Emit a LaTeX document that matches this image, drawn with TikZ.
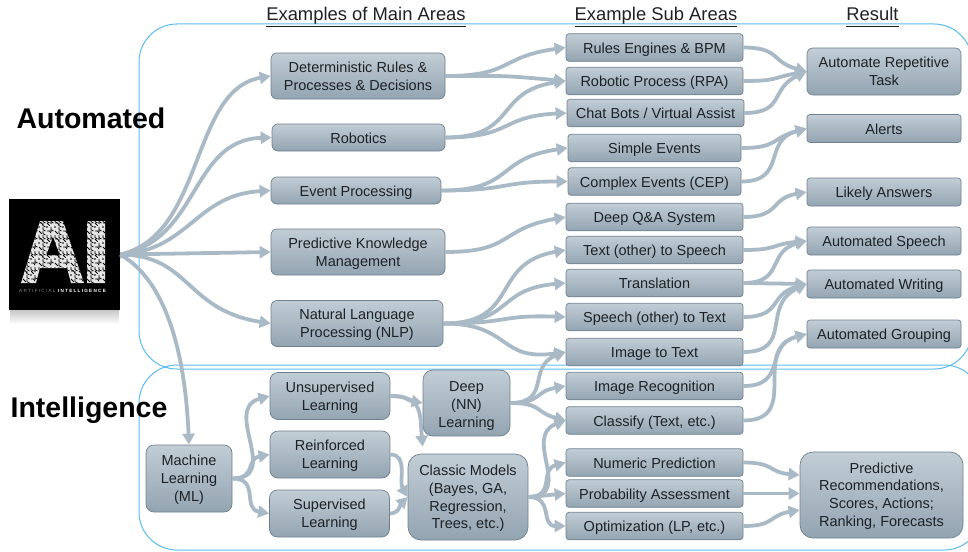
\documentclass[tikz,border=0pt]{standalone}
\usepackage{fontspec}
\setmainfont{Liberation Sans}
\usetikzlibrary{arrows.meta}
\definecolor{flowcol}{HTML}{A9BAC6}
\definecolor{framecol}{HTML}{5DBBF2}
\definecolor{boxtop}{HTML}{C2CDD5}
\definecolor{boxbot}{HTML}{93A4B1}
\definecolor{boxline}{HTML}{6E8090}
\definecolor{inkcol}{HTML}{1E2226}
\tikzset{
	basebox/.style={draw=boxline,line width=.7pt,top color=boxtop,bottom color=boxbot,text=inkcol,align=center,inner sep=0pt,
		font=\fontsize{14.5}{17.8}\selectfont,
		execute at begin node={\rule{0pt}{14.5pt}},execute at end node={\rule[-3pt]{0pt}{0pt}}},
	lowered/.style={execute at begin node={\rule{0pt}{#1}}},
	lowered/.default=31.2pt,
	subbox/.style={basebox,rounded corners=3pt,minimum width=177pt,minimum height=27.5pt},
	resbox/.style={basebox,rounded corners=3pt,minimum width=154pt,minimum height=28pt},
	mainbox/.style={basebox,rounded corners=6pt,minimum width=174pt,minimum height=46pt},
	lowbox/.style={basebox,rounded corners=8pt,minimum width=120pt,minimum height=47pt,lowered},
	frame/.style={draw=framecol,line width=1pt,rounded corners=38pt},
	heading/.style={anchor=base,text=inkcol,font=\fontsize{18.4}{21}\selectfont,inner sep=0pt},
	bigword/.style={text=black,font=\fontsize{28.5}{32}\selectfont\bfseries,inner sep=0pt},
	flow/.style={draw=flowcol,line width=3.8pt,looseness=1.4,-{Triangle[length=11pt,width=12pt]}},
}
\begin{document}
\begin{tikzpicture}[x=1pt,y=-1pt]
	\useasboundingbox (0,0) rectangle (968,551);
	% the two areas, cut off by the right edge
	\begin{scope}
		\clip (0,0) rectangle (968,551);
		\draw[frame] (139,24) rectangle (972,369);
		\draw[frame] (139,365) rectangle (982,550);
	\end{scope}
	\node[heading] (headmain) at (366,21) {\underline{Examples of Main Areas}};
	\node[heading] (headsub) at (656,21) {\underline{Example Sub Areas}};
	\node[heading] (headres) at (872.5,21) {\underline{Result\vphantom{p}}};
	\node[bigword] (wordauto) at (91,118) {Automated};
	\node[bigword] (wordintel) at (89,410) {Intelligence};
	% logo
	\fill[top color=black!22,bottom color=white] (10,310) rectangle (119,324);
	\node[fill=black,minimum size=111pt,inner sep=0pt] (ailogo) at (64.5,254.5) {};
	\begin{scope}
		\clip (21,283) -- (40,221) -- (63,221) -- (84,283) -- (71,283) -- (67,268) -- (40,268) -- (36,283) -- cycle
			(87,221) rectangle (105,283);
		\fill[white!90!black] (15,215) rectangle (110,290);
		\foreach \i in {0,...,23} \foreach \j in {0,...,18} {
			\pgfmathtruncatemacro{\k}{mod(\i*3+\j*5+\i*\j,4)}
			\ifnum\k=0 \draw[black,line width=.75pt] (15+\i*4,215+\j*4) -- ++(2.6,0) -- ++(1.4,2.2);\fi
			\ifnum\k=1 \draw[black,line width=.75pt] (15+\i*4,215+\j*4) -- ++(0,2.6) -- ++(2.4,1.4);\fi
			\ifnum\k=2 \draw[black,line width=.75pt] (15+\i*4,215+\j*4) -- ++(2.8,2.8);\fi
			\ifnum\k=3 \fill[black] (15+\i*4,215+\j*4) circle (.9pt);\fi
		}
	\end{scope}
	\fill[black] (53,237) -- (46.5,255) -- (59.5,255) -- cycle;
	\node[text=white,font=\fontsize{4.6}{5}\selectfont,inner sep=0pt] (logotext) at (62.5,291) {\textcolor{white!55!black}{A R T I F I C I A L}\ \ \textbf{I N T E L L I G E N C E}};
	% main areas
	\node[mainbox,lowered] (det) at (358,76) {Deterministic Rules \&\\Processes \& Decisions};
	\node[mainbox,minimum width=173pt,minimum height=27pt] (rob) at (358.5,137.5) {Robotics};
	\node[mainbox,minimum width=170pt,minimum height=27pt] (evt) at (356,190.5) {Event Processing};
	\node[mainbox,lowered] (pred) at (358,252) {Predictive Knowledge\\Management};
	\node[mainbox,minimum width=172pt,lowered] (nlp) at (357,323.5) {Natural Language\\Processing (NLP)};
	% sub areas
	\node[subbox] (rules) at (654.5,47.5) {Rules Engines \& BPM};
	\node[subbox] (rpa) at (654.5,81) {Robotic Process (RPA)};
	\node[subbox] (chat) at (655.5,113) {Chat Bots / Virtual Assist};
	\node[subbox,minimum width=173pt] (simple) at (654.5,148) {Simple Events};
	\node[subbox,minimum width=173pt] (cep) at (654.5,181.5) {Complex Events (CEP)};
	\node[subbox] (qa) at (654.5,217) {Deep Q\&A System};
	\node[subbox] (tts) at (654.5,250) {Text (other) to Speech};
	\node[subbox] (transl) at (654.5,283) {Translation};
	\node[subbox] (stt) at (654.5,317) {Speech (other) to Text};
	\node[subbox] (imgtext) at (654.5,352) {Image to Text};
	\node[subbox] (imgrec) at (654.5,386) {Image Recognition};
	\node[subbox] (classify) at (654.5,420.5) {Classify (Text, etc.)};
	\node[subbox] (numeric) at (654.5,462.5) {Numeric Prediction};
	\node[subbox] (prob) at (654.5,493.5) {Probability Assessment};
	\node[subbox] (optim) at (654.5,526) {Optimization (LP, etc.)};
	% results
	\node[resbox,rounded corners=6pt,minimum height=47pt,lowered=30.2pt] (repeat) at (884,71.5) {Automate Repetitive\\Task};
	\node[resbox] (alerts) at (884,128.5) {Alerts};
	\node[resbox] (likely) at (884,192) {Likely Answers};
	\node[resbox] (speech) at (884,241) {Automated Speech};
	\node[resbox] (writing) at (884,284) {Automated Writing};
	\node[resbox] (grouping) at (884,334) {Automated Grouping};
	\node[basebox,rounded corners=13pt,minimum width=163pt,minimum height=86pt,lowered=65.8pt] (predictive) at (881.5,495) {Predictive\\Recommendations,\\Scores, Actions;\\Ranking, Forecasts};
	% machine learning
	\node[lowbox,minimum width=86pt,minimum height=67pt,lowered=49pt] (ml) at (189,478.5) {Machine\\Learning\\(ML)};
	\node[lowbox] (unsup) at (330,396) {Unsupervised\\Learning};
	\node[lowbox] (reinf) at (330,454.5) {Reinforced\\Learning};
	\node[lowbox] (superv) at (329.5,513.5) {Supervised\\Learning};
	\node[lowbox,rounded corners=10pt,minimum width=87pt,minimum height=66pt,lowered=51pt] (deep) at (466.5,403) {Deep\\(NN)\\Learning};
	\node[lowbox,rounded corners=13pt,minimum height=86pt,lowered=66.8pt] (classic) at (468,497) {Classic Models\\(Bayes, GA,\\Regression,\\Trees, etc.)};
	% from the logo
	\fill[black!30] (120,252) -- (138,254.5) -- (120,258.5) -- cycle;
	\draw[flow] (ailogo.east) .. controls (205,235) and (190,90) .. (det.west);
	\draw[flow] (ailogo.east) .. controls (200,240) and (190,140) .. (rob.west);
	\draw[flow] (ailogo.east) .. controls (190,250) and (195,195) .. (evt.west);
	\draw[flow] (ailogo.east) -- (pred.west);
	\draw[flow] (ailogo.east) .. controls (190,255) and (185,310) .. (nlp.west);
	\draw[flow] (ailogo.east) .. controls (165,280) and (185,350) .. (ml.north);
	% main to sub
	\draw[flow] (det.east) to[out=0,in=188] (rules.west);
	\draw[flow] (det.east) to[out=0,in=175] (rpa.west);
	\draw[flow] (rob.east) to[out=0,in=188] (rpa.west);
	\draw[flow] (rob.east) to[out=0,in=183] (chat.west);
	\draw[flow] (evt.east) to[out=0,in=188] (simple.west);
	\draw[flow] (evt.east) to[out=0,in=180] (cep.west);
	\draw[flow] (pred.east) to[out=0,in=190] (qa.west);
	\draw[flow] (nlp.east) to[out=0,in=190] (tts.west);
	\draw[flow] (nlp.east) to[out=0,in=185] (transl.west);
	\draw[flow] (nlp.east) to[out=0,in=178] (stt.west);
	\draw[flow] (nlp.east) to[out=0,in=188] (imgtext.west);
	% sub to result
	\draw[flow] (rules.east) to[out=0,in=165] (repeat.west);
	\draw[flow] (rpa.east) to[out=0,in=190] (repeat.west);
	\draw[flow] (chat.east) to[out=0,in=205] (repeat.west);
	\draw[flow] (simple.east) to[out=0,in=195] (alerts.west);
	\draw[flow] (cep.east) to[out=0,in=195] (alerts.west);
	\draw[flow] (qa.east) to[out=0,in=190] (likely.west);
	\draw[flow] (tts.east) to[out=0,in=185] (speech.west);
	\draw[flow] (transl.east) to[out=0,in=195] (speech.west);
	\draw[flow] (transl.east) -- (writing.west);
	\draw[flow] (stt.east) to[out=0,in=195] (writing.west);
	\draw[flow] (imgtext.east) to[out=0,in=205] (writing.west);
	\draw[flow] (imgrec.east) to[out=0,in=195] (grouping.west);
	\draw[flow] (classify.east) to[out=0,in=195] (grouping.west);
	% machine learning flows
	\draw[flow] (ml.east) to[out=0,in=195] (unsup.west);
	\draw[flow] (ml.east) to[out=0,in=190] (reinf.west);
	\draw[flow] (ml.east) to[out=0,in=170] (superv.west);
	\draw[flow] (unsup.east) to[out=0,in=170] (deep.west);
	\draw[flow] (unsup.east) to[out=0,in=95] ([shift={(15pt,7pt)}]classic.north west);
	\draw[flow,looseness=1] (reinf.east) to[out=0,in=120] (classic.west);
	\draw[flow,looseness=1] (superv.east) to[out=0,in=225] (classic.west);
	\draw[flow] (deep.east) to[out=0,in=200] (imgtext.west);
	\draw[flow] (deep.east) to[out=0,in=190] (imgrec.west);
	\draw[flow] (deep.east) to[out=0,in=165] (classify.west);
	\draw[flow] (classic.east) to[out=0,in=200] (classify.west);
	\draw[flow] (classic.east) to[out=0,in=195] (numeric.west);
	\draw[flow] (classic.east) -- (prob.west);
	\draw[flow] (classic.east) to[out=0,in=180] (optim.west);
	% into the last result
	\draw[flow] (numeric.east) to[out=0,in=175] ([yshift=20pt]predictive.west);
	\draw[flow] (prob.east) -- (prob.east -| predictive.west);
	\draw[flow] (optim.east) to[out=0,in=190] ([yshift=-15pt]predictive.west);
\end{tikzpicture}
\end{document}
